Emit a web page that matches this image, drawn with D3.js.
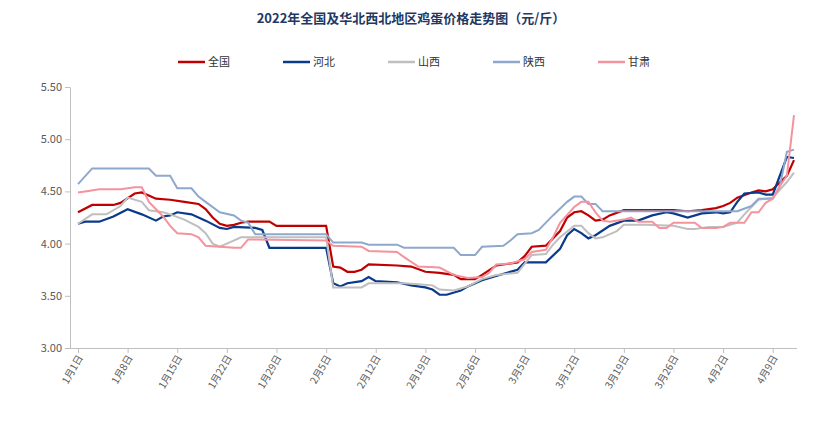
<!DOCTYPE html><html><head><meta charset="utf-8"><script src="https://cdn.jsdelivr.net/npm/d3@7"></script>
<style>body{margin:0;background:#fff}text{font-family:"Noto Sans CJK SC",sans-serif}</style></head><body><svg id="c" width="823" height="422"></svg>
<script>
const title="2022年全国及华北西北地区鸡蛋价格走势图（元/斤）";
const seriesNames=["全国","河北","山西","陕西","甘肃"];
const colors=["#C00000","#0A3A8A","#BFBFBF","#8EA8CD","#F4939E"];
const tickLabels=["1月1日","1月8日","1月15日","1月22日","1月29日","2月5日","2月12日","2月19日","2月26日","3月5日","3月12日","3月19日","3月26日","4月2日","4月9日"];
const yTicks=[3.00,3.50,4.00,4.50,5.00,5.50];
// [day index from Jan 1, price]
const quanguo=[[0,4.30],[2,4.37],[5,4.37],[6,4.39],[8,4.48],[9,4.49],[11,4.43],[13,4.42],[15,4.40],[17,4.38],[18,4.33],[19,4.25],[20,4.19],[21,4.17],[22,4.18],[23,4.20],[24,4.21],[27,4.21],[28,4.17],[35,4.17],[36,3.78],[37,3.77],[38,3.73],[39,3.73],[40,3.75],[41,3.80],[45,3.79],[47,3.78],[49,3.73],[51,3.72],[53,3.70],[54,3.66],[56,3.66],[57,3.70],[59,3.79],[60,3.80],[62,3.82],[63,3.88],[64,3.97],[66,3.98],[67,4.05],[68,4.12],[69,4.25],[70,4.30],[71,4.31],[72,4.27],[73,4.22],[74,4.23],[75,4.27],[77,4.32],[84,4.32],[86,4.31],[88,4.32],[90,4.34],[91,4.36],[92,4.39],[93,4.44],[95,4.49],[96,4.51],[97,4.50],[98,4.52],[100,4.65],[101,4.80]];
const hebei=[[0,4.19],[1,4.21],[3,4.21],[5,4.26],[7,4.33],[9,4.28],[11,4.22],[12,4.26],[13,4.27],[14,4.30],[16,4.28],[18,4.22],[20,4.15],[21,4.14],[22,4.16],[25,4.15],[26,4.13],[27,3.96],[35,3.96],[36,3.62],[37,3.59],[38,3.62],[40,3.64],[41,3.68],[42,3.64],[45,3.63],[47,3.60],[49,3.58],[50,3.56],[51,3.51],[52,3.51],[54,3.55],[55,3.59],[57,3.65],[59,3.69],[62,3.75],[63,3.82],[66,3.82],[68,3.95],[69,4.08],[70,4.14],[71,4.10],[72,4.05],[73,4.08],[75,4.17],[77,4.22],[79,4.22],[81,4.27],[83,4.30],[84,4.29],[86,4.25],[88,4.29],[90,4.30],[91,4.29],[92,4.30],[93,4.40],[94,4.48],[96,4.49],[97,4.47],[98,4.47],[99,4.65],[100,4.83],[101,4.82]];
const shanxi=[[0,4.19],[2,4.28],[4,4.28],[6,4.36],[7,4.44],[9,4.40],[10,4.32],[12,4.30],[13,4.28],[15,4.23],[17,4.16],[18,4.10],[19,4.00],[20,3.97],[21,4.00],[23,4.06],[35,4.06],[36,3.58],[40,3.58],[41,3.62],[46,3.62],[48,3.61],[50,3.60],[51,3.56],[53,3.55],[55,3.59],[57,3.66],[59,3.70],[62,3.72],[64,3.89],[66,3.90],[67,3.99],[68,4.06],[70,4.17],[71,4.17],[72,4.10],[73,4.05],[74,4.06],[76,4.12],[77,4.18],[80,4.18],[84,4.17],[86,4.14],[87,4.14],[89,4.16],[91,4.16],[93,4.20],[94,4.28],[96,4.42],[98,4.44],[100,4.59],[101,4.68]];
const shaanxi=[[0,4.57],[2,4.72],[10,4.72],[11,4.65],[13,4.65],[14,4.53],[16,4.53],[17,4.45],[18,4.40],[20,4.30],[22,4.27],[23,4.22],[24,4.20],[25,4.09],[35,4.09],[36,4.01],[40,4.01],[41,3.99],[45,3.99],[46,3.96],[53,3.96],[54,3.89],[56,3.89],[57,3.97],[60,3.98],[61,4.03],[62,4.09],[64,4.10],[65,4.13],[67,4.27],[69,4.40],[70,4.45],[71,4.45],[72,4.38],[73,4.38],[74,4.31],[93,4.31],[95,4.36],[96,4.43],[98,4.43],[99,4.55],[100,4.88],[101,4.90]];
const gansu=[[0,4.49],[1,4.50],[3,4.52],[6,4.52],[8,4.54],[9,4.54],[10,4.40],[12,4.26],[13,4.17],[14,4.10],[16,4.09],[17,4.06],[18,3.98],[20,3.97],[22,3.96],[23,3.96],[24,4.04],[35,4.03],[36,3.98],[40,3.97],[41,3.93],[45,3.92],[46,3.87],[48,3.78],[51,3.77],[53,3.70],[55,3.67],[57,3.68],[58,3.72],[59,3.80],[61,3.81],[63,3.85],[64,3.92],[66,3.94],[67,4.06],[68,4.20],[70,4.35],[71,4.40],[72,4.40],[73,4.30],[74,4.22],[75,4.21],[77,4.23],[78,4.25],[79,4.21],[81,4.21],[82,4.15],[83,4.15],[84,4.20],[87,4.20],[88,4.15],[90,4.15],[91,4.16],[92,4.20],[94,4.20],[95,4.30],[96,4.30],[97,4.39],[98,4.43],[99,4.55],[100,4.65],[101,5.23]];
const all=[quanguo,hebei,shanxi,shaanxi,gansu];
const svg=d3.select("#c");
const x=d3.scaleLinear().domain([0,101]).range([78,794]);
const y=d3.scaleLinear().domain([3,5.5]).range([348,87]);
svg.append("text").attr("x",411).attr("y",23).attr("text-anchor","middle").attr("font-size",13).attr("font-weight","bold").attr("fill","#1F3864").text(title);
seriesNames.forEach((n,i)=>{const lx=178+i*105;
 svg.append("line").attr("x1",lx).attr("x2",lx+27).attr("y1",62).attr("y2",62).attr("stroke",colors[i]).attr("stroke-width",2.5);
 svg.append("text").attr("x",lx+30).attr("y",66).attr("font-size",11).attr("fill","#333").text(n);});
const ya=svg.append("g").attr("transform","translate(70,0)").call(d3.axisLeft(y).tickValues(yTicks).tickFormat(d3.format(".2f")).tickSize(5).tickSizeOuter(0));
ya.select(".domain").attr("stroke","#bfbfbf");ya.selectAll("line").attr("stroke","#bfbfbf");
ya.selectAll("text").attr("font-size",11).attr("fill","#595959").attr("font-family","Noto Sans CJK SC");
const xa=svg.append("g").attr("transform","translate(0,348)").call(d3.axisBottom(x).tickValues(tickLabels.map((d,i)=>i*7)).tickFormat((d,i)=>tickLabels[i]).tickSize(5).tickSizeOuter(0));
xa.select(".domain").attr("stroke","#bfbfbf").attr("d","M70,0.5H797");xa.selectAll("line").attr("stroke","#bfbfbf");
xa.selectAll("text").attr("font-size",10).attr("fill","#595959").attr("font-family","Noto Sans CJK SC").attr("text-anchor","end").attr("transform","rotate(-60)").attr("dx","-0.6em").attr("dy","0.1em");
const line=d3.line().x(d=>x(d[0])).y(d=>y(d[1]));
all.forEach((s,i)=>svg.append("path").attr("d",line(s)).attr("fill","none").attr("stroke",colors[i]).attr("stroke-width",i==0||i==1?2.2:2));
</script></body></html>
